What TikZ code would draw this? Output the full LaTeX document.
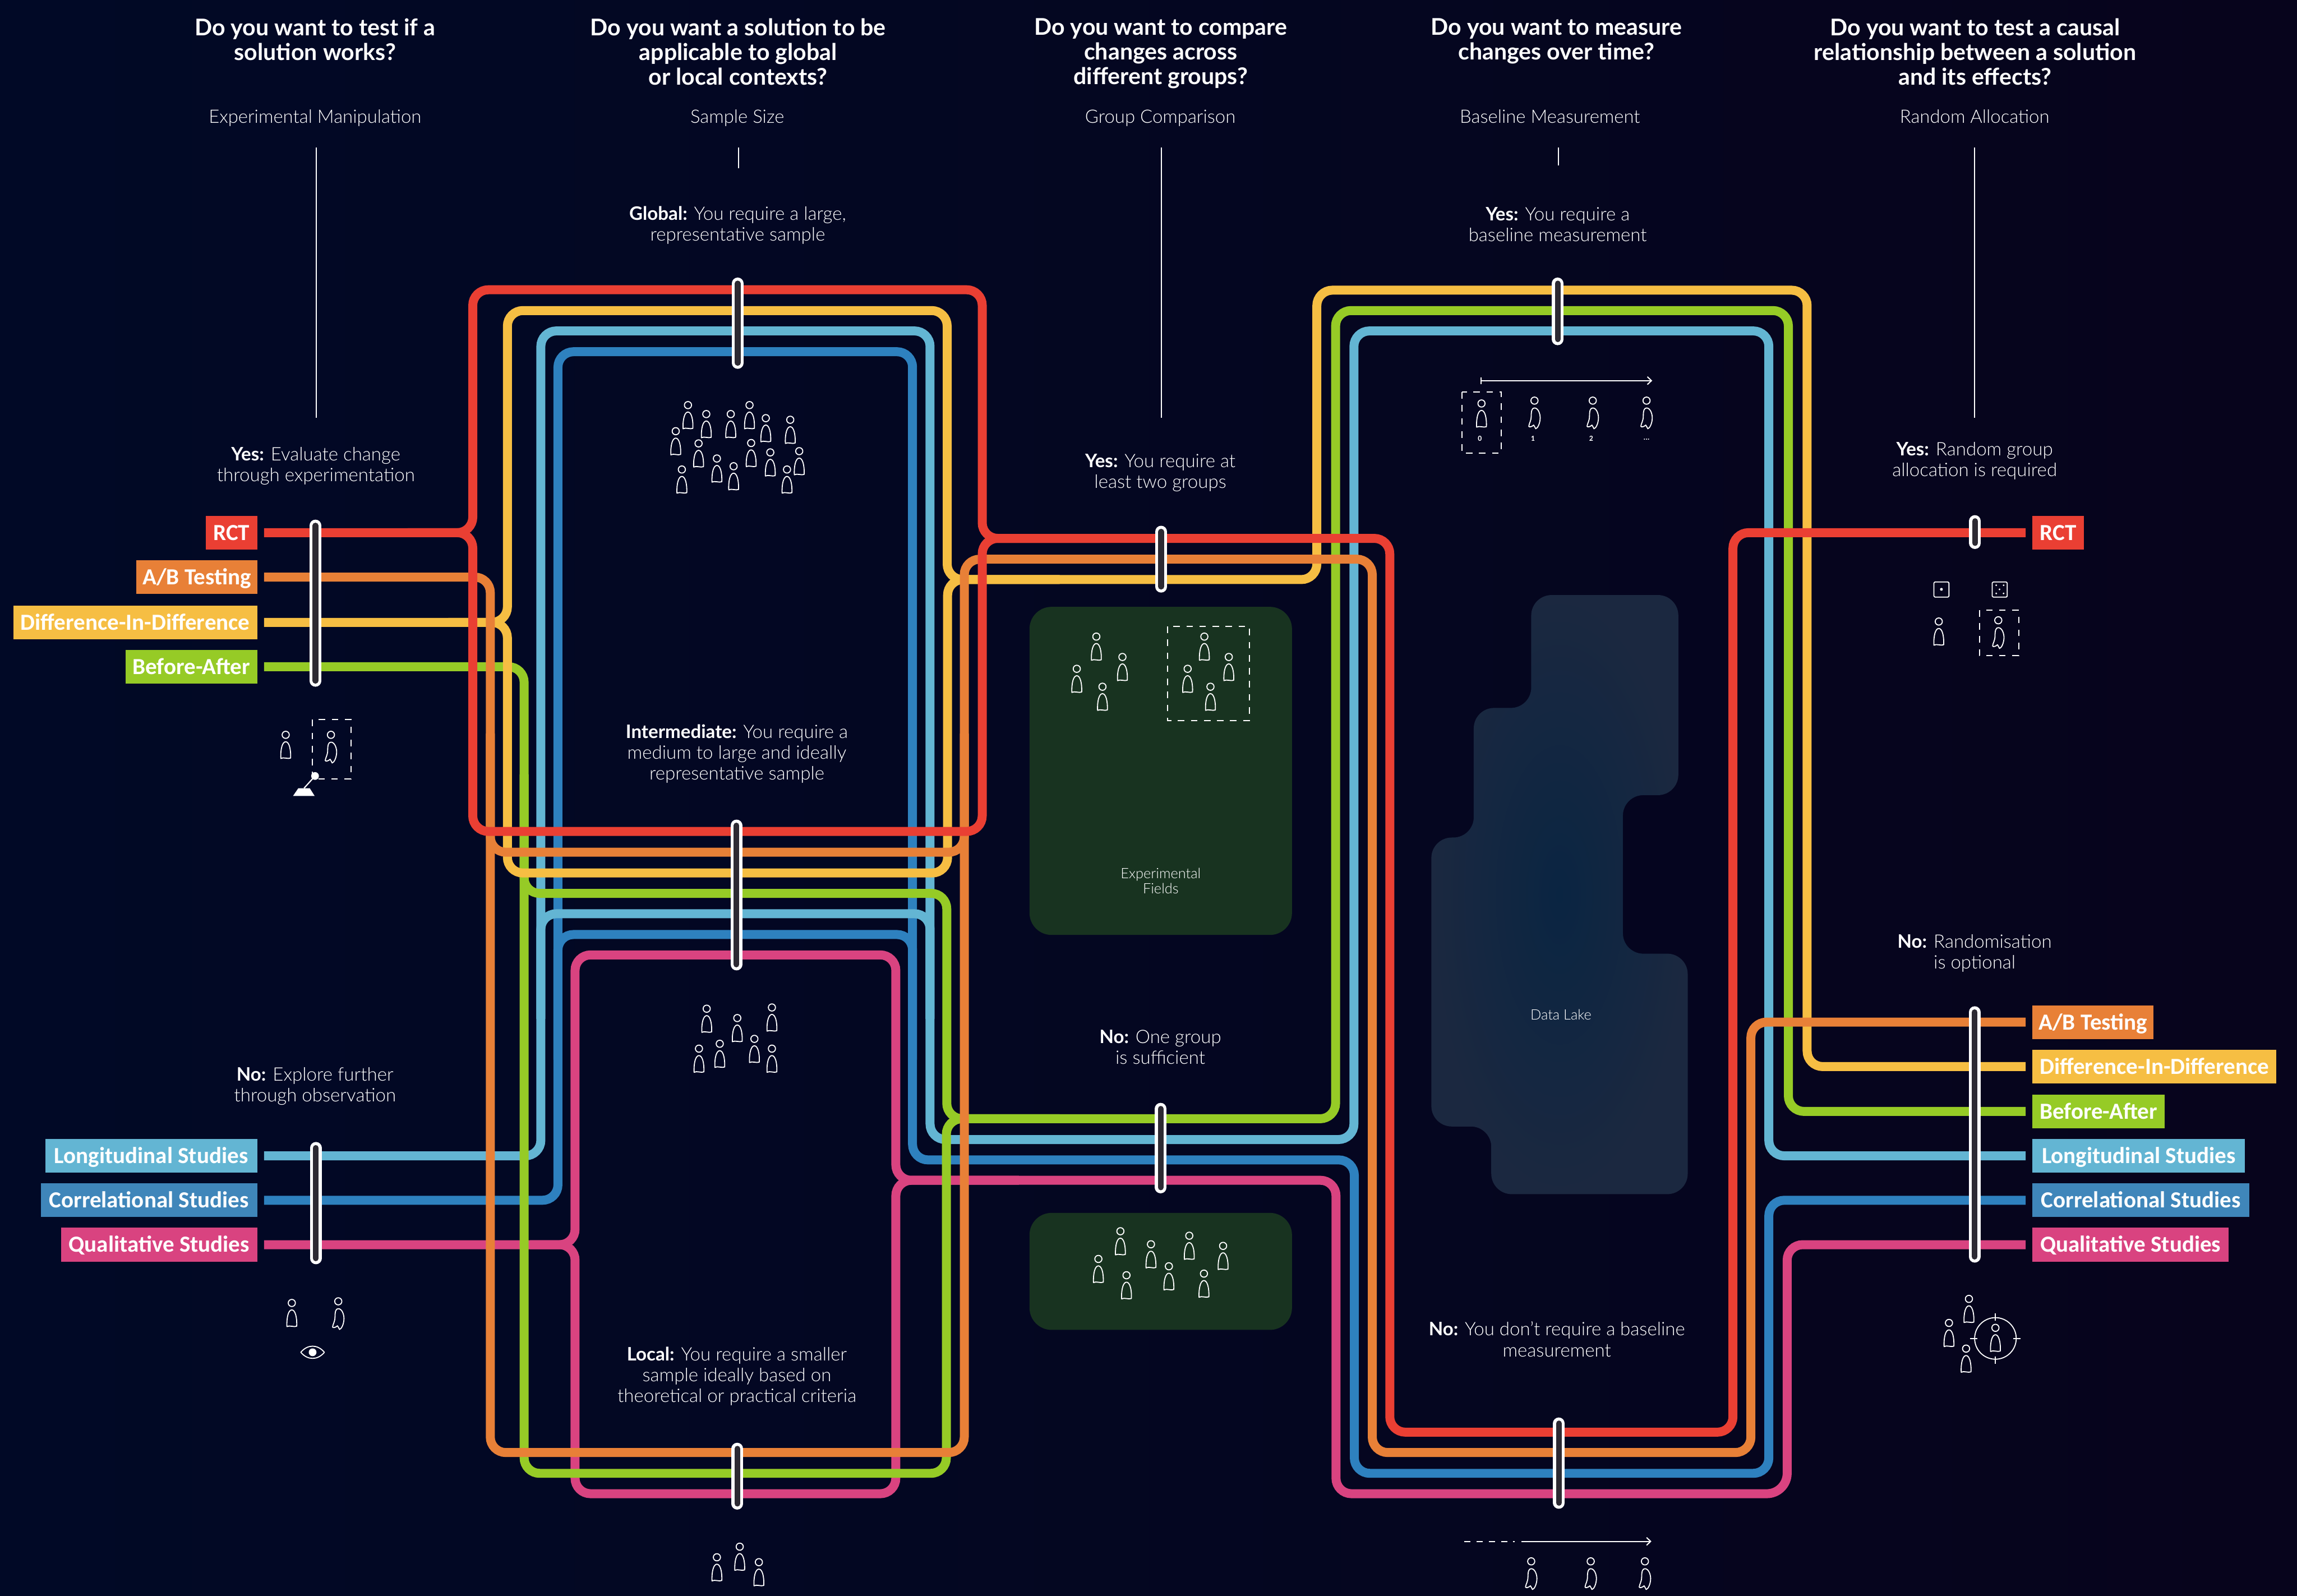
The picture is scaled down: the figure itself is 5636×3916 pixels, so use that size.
\documentclass[tikz,border=0pt]{standalone}
\usepackage{fontspec}
\setmainfont{Lato}[UprightFont=* Light,BoldFont=* Bold]
\newfontfamily\labfont{Carlito}[BoldFont=Carlito Bold]
\usetikzlibrary{arrows.meta}
\definecolor{bgA}{HTML}{010926}
\definecolor{bgB}{HTML}{07041C}
\definecolor{cRed}{HTML}{EA3F33}
\definecolor{cOrange}{HTML}{E88037}
\definecolor{cYellow}{HTML}{F6BE43}
\definecolor{cGreen}{HTML}{96CB26}
\definecolor{cLight}{HTML}{63B5D3}
\definecolor{cBlue}{HTML}{2E81BF}
\definecolor{cBlueL}{HTML}{3F86BA}
\definecolor{cPink}{HTML}{D94380}
\definecolor{cPanel}{HTML}{183320}
\definecolor{cPill}{HTML}{2D2A33}
\definecolor{cLakeIn}{HTML}{0A2542}
\definecolor{cLakeOut}{HTML}{1B2840}
\tikzset{
  route/.style={line width=4.4pt,rounded corners=7.6pt,draw=#1},
  lab/.style={anchor=#1,fill=labcol,text=white,inner xsep=0pt,inner ysep=0pt,minimum height=16.6pt,
    text height=8.3pt,text depth=.9pt,font=\labfont\bfseries\fontsize{11.3}{12}\selectfont},
  icon/.style={draw=white,line width=.5pt,line join=round},
  dashbox/.style={draw=white,line width=.55pt,dash pattern=on 3.2pt off 3.2pt},
  stem/.style={draw=white,line width=.5pt},
  question/.style={anchor=north,align=center,inner sep=0pt,text=white,font=\bfseries\fontsize{11.3}{12.1}\selectfont},
  sub/.style={anchor=base,align=center,inner sep=0pt,text=white,font=\fontsize{9.05}{10}\selectfont},
  body/.style={align=center,inner sep=0pt,text=white,font=\fontsize{9.1}{10.2}\selectfont},
  small/.style={align=center,inner sep=0pt,text=white,font=\fontsize{7}{7.4}\selectfont},
  tiny/.style={inner sep=0pt,text=white,font=\labfont\bfseries\fontsize{3.8}{4}\selectfont},
  pillout/.style={draw=white,line width=5.8pt,line cap=round},
  pillin/.style={draw=cPill,line width=2.8pt,line cap=round}
}
\newcommand\pillbar[3]{%
  \draw[pillout] (#1,#2+14.5) -- (#1,#3-14.5);
  \draw[pillin] (#1,#2+14.5) -- (#1,#3-14.5);}
\newcommand\persn[2]{\begin{scope}[shift={(#1,#2)}]
  \draw[icon] (0,0) circle[radius=1.75pt];
  \draw[icon] (0,17) .. controls (8,17) and (13,34) .. (12,57) .. controls (6,60) and (-6,54) .. (-12,58) .. controls (-13,34) and (-8,17) .. (0,17) -- cycle;
\end{scope}}
\newcommand\sidep[2]{\begin{scope}[shift={(#1,#2)}]
  \draw[icon] (0,0) circle[radius=1.75pt];
  \draw[icon] (0,18) .. controls (9,18) and (14,32) .. (14,42) .. controls (14,55) and (8,68) .. (3,69) .. controls (1,66) and (0,62) .. (-2,60) .. controls (-6,64) and (-13,66) .. (-14,63) .. controls (-13,55) and (-8,50) .. (-8,38) .. controls (-8,25) and (-6,18) .. (0,18) -- cycle;
\end{scope}}
\begin{document}
\begin{tikzpicture}[x=0.2pt,y=-0.2pt]
\useasboundingbox (0,0) rectangle (5636,3916);
\shade[left color=bgA,right color=bgB] (0,0) rectangle (5636,3916);

% panels
\fill[cPanel,rounded corners=10.8pt] (2526,1489) rectangle (3170,2294);
\fill[cPanel,rounded corners=10.8pt] (2526,2976) rectangle (3170,3263);
\shade[inner color=cLakeIn,outer color=cLakeOut,rounded corners=10pt]
 (3757,1460) -- (4118,1460) -- (4118,1951) -- (3982,1951) -- (3982,2340) -- (4141,2340) -- (4141,2930) -- (3659,2930) -- (3659,2764) -- (3512,2764) -- (3512,2055) -- (3616,2055) -- (3616,1737) -- (3757,1737) -- cycle;

% labels left
\colorlet{labcol}{cRed}
\node[lab=east,minimum width=25.2pt] (rctL) at (632,1307) {RCT};
\colorlet{labcol}{cOrange}
\node[lab=east,minimum width=59.2pt] (abL) at (632,1416) {A/B Testing};
\colorlet{labcol}{cYellow}
\node[lab=east,minimum width=119.6pt] (didL) at (632,1527) {Difference-In-Difference};
\colorlet{labcol}{cGreen}
\node[lab=east,minimum width=64.6pt] (baL) at (632,1636) {Before-After};
\colorlet{labcol}{cLight}
\node[lab=east,minimum width=104pt] (lonL) at (632,2836) {Longitudinal Studies};
\colorlet{labcol}{cBlueL}
\node[lab=east,minimum width=106.2pt] (corL) at (632,2945) {Correlational Studies};
\colorlet{labcol}{cPink}
\node[lab=east,minimum width=96.2pt] (quaL) at (632,3054) {Qualitative Studies};
% labels right
\colorlet{labcol}{cRed}
\node[lab=west,minimum width=25.2pt] (rctR) at (4986,1307) {RCT};
\colorlet{labcol}{cOrange}
\node[lab=west,minimum width=59.4pt] (abR) at (4986,2508) {A/B Testing};
\colorlet{labcol}{cYellow}
\node[lab=west,minimum width=119.6pt] (didR) at (4986,2617) {Difference-In-Difference};
\colorlet{labcol}{cGreen}
\node[lab=west,minimum width=64.8pt] (baR) at (4986,2727) {Before-After};
\colorlet{labcol}{cLight}
\node[lab=west,minimum width=104.2pt] (lonR) at (4986,2836) {Longitudinal Studies};
\colorlet{labcol}{cBlueL}
\node[lab=west,minimum width=106.4pt] (corR) at (4986,2945) {Correlational Studies};
\colorlet{labcol}{cPink}
\node[lab=west,minimum width=96.2pt] (quaR) at (4986,3054) {Qualitative Studies};

% routes, bottom to top
\draw[route=cPink] ([xshift=3.2pt]quaL.east) -- (1411,3054) -- (1411,2343) -- (2198,2343) -- (2198,2896) -- (3278,2896) -- (3278,3665) [rounded corners=10pt] -- (4385,3665) [rounded corners=7.6pt] -- (4385,3054) -- ([xshift=-3.2pt]quaR.west);
\draw[route=cPink] (1300,3054) -- (1411,3054) -- (1411,3665) -- (2198,3665) -- (2198,2896) -- (2500,2896);

\draw[route=cBlue] ([xshift=3.2pt]corL.east) -- (1369,2945) -- (1369,863) -- (2239,863) -- (2239,2846) -- (3323,2846) -- (3323,3615) -- (4340,3615) -- (4340,2945) -- ([xshift=-3.2pt]corR.west);
\draw[route=cBlue] (1369,2600) -- (1369,2293) -- (2239,2293) -- (2239,2600);

\draw[route=cLight] ([xshift=3.2pt]lonL.east) -- (1327,2836) -- (1327,812) -- (2282,812) -- (2282,2796) -- (3322,2796) -- (3322,812) -- (4340,812) -- (4340,2836) -- ([xshift=-3.2pt]lonR.west);
\draw[route=cLight] (1327,2500) -- (1327,2242) -- (2282,2242) -- (2282,2500);

\draw[route=cGreen] ([xshift=3.2pt]baL.east) -- (1286,1636) -- (1286,3615) -- (2322,3615) -- (2322,2745) -- (3277,2745) -- (3277,762) -- (4388,762) -- (4388,2727) -- ([xshift=-3.2pt]baR.west);
\draw[route=cGreen] (1286,1900) -- (1286,2192) -- (2323,2192) -- (2323,2745) -- (2600,2745);

\draw[route=cYellow] ([xshift=3.2pt]didL.east) -- (1245,1527) -- (1245,762) -- (2324,762) -- (2324,1422) -- (3231,1422) -- (3231,712) -- (4434,712) -- (4434,2617) -- ([xshift=-3.2pt]didR.west);
\draw[route=cYellow] (1100,1527) -- (1245,1527) -- (1245,2142) -- (2325,2142) -- (2325,1422) -- (2600,1422);

\draw[route=cOrange] ([xshift=3.2pt]abL.east) -- (1203,1416) -- (1203,3564) -- (2366,3564) -- (2366,1372) -- (3367,1372) -- (3367,3564) -- (4296,3564) -- (4296,2508) -- ([xshift=-3.2pt]abR.west);
\draw[route=cOrange] (1203,1800) -- (1203,2091) -- (2366,2091) -- (2366,1800);

\draw[route=cRed] ([xshift=3.2pt]rctL.east) -- (1160,1307) -- (1160,711) -- (2410,711) -- (2410,1321) -- (3410,1321) -- (3410,3514) -- (4252,3514) -- (4252,1307) -- ([xshift=-3.2pt]rctR.west);
\draw[route=cRed] (1000,1307) -- (1160,1307) -- (1160,2040) -- (2410,2040) -- (2410,1321) -- (2700,1321);

% pills
\pillbar{774}{1275}{1685}
\pillbar{775}{2802}{3102}
\pillbar{1810}{681}{905}
\pillbar{1807}{2011}{2381}
\pillbar{1809}{3540}{3704}
\pillbar{2849}{1290}{1454}
\pillbar{2848}{2706}{2928}
\pillbar{3822}{681}{847}
\pillbar{3825}{3478}{3702}
\pillbar{4846}{1264}{1347}
\pillbar{4845}{2469}{3098}

% questions
\node[question] (q1) at (773,44) {Do you want to test if a\\solution works?};
\node[question] (q2) at (1811,44) {Do you want a solution to be\\applicable to global\\or local contexts?};
\node[question] (q3) at (2848,44) {Do you want to compare\\changes across\\different groups?};
\node[question] (q4) at (3819,44) {Do you want to measure\\changes over time?};
\node[question] (q5) at (4846,44) {Do you want to test a causal\\relationship between a solution\\and its effects?};
% criteria
\node[sub] (s1) at (773,302) {Experimental Manipulation};
\node[sub] (s2) at (1809,302) {Sample Size};
\node[sub] (s3) at (2847,302) {Group Comparison};
\node[sub] (s4) at (3803,302) {Baseline Measurement};
\node[sub] (s5) at (4845,302) {Random Allocation};
% stems
\coordinate (e1) at (776,1025); \coordinate (e2) at (1812,413); \coordinate (e3) at (2850,1025); \coordinate (e4) at (3824,406); \coordinate (e5) at (4845,1025);
\coordinate (b1) at (776,362); \coordinate (b2) at (1812,362); \coordinate (b3) at (2850,362); \coordinate (b4) at (3824,362); \coordinate (b5) at (4845,362);
\foreach \i in {1,...,5} \draw[stem] (b\i) -- (e\i);

% answers
\node[body] (a1) at (775,1143) {\textbf{Yes:} Evaluate change\\through experimentation};
\node[body] (a2) at (773,2665) {\textbf{No:} Explore further\\through observation};
\node[body] (a3) at (1810,552) {\textbf{Global:} You require a large,\\representative sample};
\node[body] (a4) at (1808,1849) {\textbf{Intermediate:} You require a\\medium to large and ideally\\representative sample};
\node[body] (a5) at (1808,3377) {\textbf{Local:} You require a smaller\\sample ideally based on\\theoretical or practical criteria};
\node[body] (a6) at (2847,1160) {\textbf{Yes:} You require at\\least two groups};
\node[body] (a7) at (2847,2569) {\textbf{No:} One group\\is sufficient};
\node[body] (a8) at (3822,550) {\textbf{Yes:} You require a\\baseline measurement};
\node[body] (a9) at (3820,3286) {\textbf{No:} You don’t require a baseline\\measurement};
\node[body] (a10) at (4845,1131) {\textbf{Yes:} Random group\\allocation is required};
\node[body] (a11) at (4845,2339) {\textbf{No:} Randomisation\\is optional};
\node[small] (p1) at (2848,2161) {Experimental\\Fields};
\node[small] (p2) at (3830,2489) {Data Lake};

% people: column 1
\persn{701}{1803}
\sidep{812}{1803}
\draw[dashbox] (766,1766) rectangle (861,1911);
\draw[draw=white,line width=.6pt] (773,1904) -- (746,1934);
\fill[white] (773,1904) circle[radius=1.9pt];
\fill[white] (732,1934) -- (760,1934) -- (772,1953) -- (719,1953) -- cycle;
\persn{716}{3197}
\sidep{830}{3193}
\draw[icon] (738,3318) .. controls (755,3298) and (779,3298) .. (796,3318) .. controls (779,3338) and (755,3338) .. (738,3318) -- cycle;
\fill[white] (767,3318) circle[radius=1.9pt];
% column 2
\foreach \a/\b in {1688/994,1733/1016,1793/1016,1839/994,1879/1026,1939/1030,1658/1058,1714/1088,1843/1087,1890/1110,1961/1107,1759/1125,1800/1144,1673/1152,1931/1152}{\persn{\a}{\b}}
\foreach \a/\b in {1734/2475,1809/2498,1894/2472,1766/2561,1851/2549,1715/2573,1894/2573}{\persn{\a}{\b}}
\foreach \a/\b in {1759/3821,1815/3795,1862/3833}{\persn{\a}{\b}}
% column 3
\foreach \a/\b in {2690/1562,2754/1612,2642/1641,2705/1685,2955/1562,3015/1612,2914/1641,2970/1685}{\persn{\a}{\b}}
\draw[dashbox] (2865,1537) rectangle (3065,1768);
\foreach \a/\b in {2695/3089,2749/3021,2824/3053,2764/3129,2868/3107,2918/3032,2954/3125,3001/3057}{\persn{\a}{\b}}
% column 4
\draw[draw=white,line width=.55pt,{Bar[width=3.2pt,length=0pt]}-{Straight Barb[length=2pt,width=3.8pt]}] (3633,934) -- (4054,934);
\draw[dashbox] (3587,962) rectangle (3683,1112);
\persn{3635}{990}
\foreach \a in {3765,3908,4040}{\sidep{\a}{983}}
\node[tiny] (n0) at (3631,1076) {0};
\node[tiny] (n1) at (3761,1076) {1};
\node[tiny] (n2) at (3904,1076) {2};
\node[tiny] (n3) at (4040,1078) {...};
\draw[draw=white,line width=.55pt,dash pattern=on 3pt off 3pt] (3593,3782) -- (3717,3782);
\draw[draw=white,line width=.55pt,-{Straight Barb[length=2pt,width=3.8pt]}] (3733,3782) -- (4052,3782);
\foreach \a in {3757,3903,4036}{\sidep{\a}{3831}}
% column 5
\draw[icon,rounded corners=.5pt] (4745,1428) rectangle (4782,1465);
\fill[white] (4763.5,1446) circle[radius=.7pt];
\draw[icon,rounded corners=.5pt] (4888,1428) rectangle (4925,1465);
\foreach \a/\b in {4898/1436,4916/1436,4906/1446,4898/1456,4916/1456}{\fill[white] (\a,\b) circle[radius=.45pt];}
\persn{4757}{1525}
\sidep{4903}{1522}
\draw[dashbox] (4857,1497) rectangle (4953,1609);
\foreach \a/\b in {4831/3187,4782/3246,4896/3258,4824/3309}{\persn{\a}{\b}}
\draw[icon] (4896,3284) circle[radius=10.2pt];
\draw[icon] (4896,3222) -- (4896,3240) (4896,3328) -- (4896,3346) (4834,3284) -- (4852,3284) (4940,3284) -- (4958,3284);
\end{tikzpicture}
\end{document}
